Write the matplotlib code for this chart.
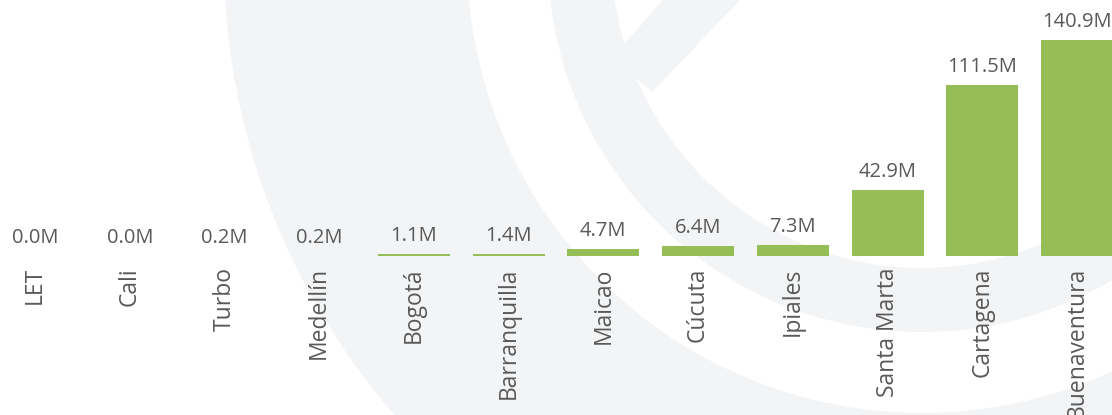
import matplotlib.pyplot as plt
from matplotlib.patches import Wedge, Polygon

# data
cities = ["LET", "Cali", "Turbo", "Medellín", "Bogotá", "Barranquilla",
          "Maicao", "Cúcuta", "Ipiales", "Santa Marta", "Cartagena", "Buenaventura"]
values = [0.0, 0.0, 0.2, 0.2, 1.1, 1.4, 4.7, 6.4, 7.3, 42.9, 111.5, 140.9]  # millions

bar_color = "#96BE56"
text_color = "#595959"
wm_color = "#F3F4F6"

plt.rcParams["font.family"] = ["Open Sans", "DejaVu Sans"]

fig = plt.figure(figsize=(11.12, 4.15), dpi=100)

# faint logo watermark behind the chart (pixel coords, y down)
bg = fig.add_axes([0, 0, 1, 1], zorder=0)
bg.set_xlim(0, 1112)
bg.set_ylim(415, 0)
bg.axis("off")
bg.add_patch(Wedge((922, -42), 698, 0, 360, width=243, color=wm_color, lw=0))
bg.add_patch(Wedge((922, -42), 374, 0, 360, width=64, color=wm_color, lw=0))
bg.add_patch(Polygon([(612, 58), (663, 0), (740, 0), (652, 92)], closed=True,
                     color=wm_color, lw=0))

ax = fig.add_axes([0, 0.383, 1, 0.617], zorder=1)
ax.patch.set_alpha(0)

x = range(len(cities))
bars = ax.bar(x, values, width=0.76, color=bar_color)

for xi, v in zip(x, values):
    ax.annotate(f"{v:.1f}M", (xi, v), xytext=(0, 9.4), textcoords="offset points",
                ha="center", va="baseline", fontsize=14.5, color=text_color)

ax.set_xlim(-0.37, len(cities) - 1 + 0.37)
ax.set_ylim(0, 167)
ax.set_xticks(list(x))
ax.set_xticklabels(cities, rotation=90, fontsize=16.5, color=text_color)
ax.tick_params(axis="x", length=0, pad=8.0)
ax.set_yticks([])
for s in ax.spines.values():
    s.set_visible(False)

fig.savefig("out.png", dpi=100)
